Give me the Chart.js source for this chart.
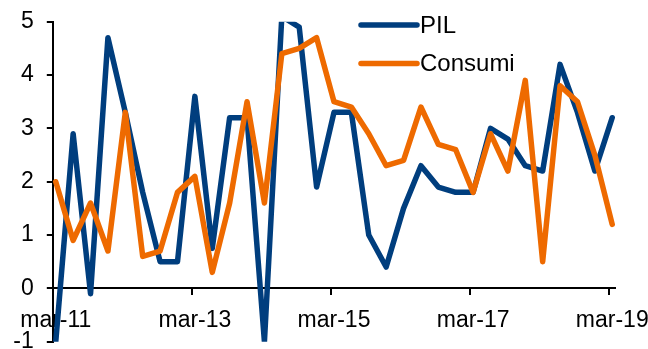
<!DOCTYPE html>
<html>
<head>
<meta charset="utf-8">
<script src="https://cdn.jsdelivr.net/npm/chart.js@4/dist/chart.umd.min.js"></script>
<style>
  html, body { margin: 0; padding: 0; background: #fff; }
  #wrap { width: 648px; height: 349px; position: relative; }
</style>
</head>
<body>
<div id="wrap"><canvas id="c"></canvas></div>
<script>
// Quarterly periods, mar-11 .. mar-19
const quarters = [
  'mar-11','giu-11','set-11','dic-11',
  'mar-12','giu-12','set-12','dic-12',
  'mar-13','giu-13','set-13','dic-13',
  'mar-14','giu-14','set-14','dic-14',
  'mar-15','giu-15','set-15','dic-15',
  'mar-16','giu-16','set-16','dic-16',
  'mar-17','giu-17','set-17','dic-17',
  'mar-18','giu-18','set-18','dic-18',
  'mar-19'
];
// Labelled periods on the time axis
const tickLabels = ['mar-11', 'mar-13', 'mar-15', 'mar-17', 'mar-19'];

// Series values (%)
const pil = [-1.0, 2.9, -0.1, 4.7, 3.3, 1.8, 0.5, 0.5,
             3.6, 0.75, 3.2, 3.2, -1.0, 5.1, 4.9, 1.9,
             3.3, 3.3, 1.0, 0.4, 1.5, 2.3, 1.9, 1.8,
             1.8, 3.0, 2.8, 2.3, 2.2, 4.2, 3.3, 2.2,
             3.2];
const consumi = [2.0, 0.9, 1.6, 0.7, 3.3, 0.6, 0.7, 1.8,
                 2.1, 0.3, 1.6, 3.5, 1.6, 4.4, 4.5, 4.7,
                 3.5, 3.4, 2.9, 2.3, 2.4, 3.4, 2.7, 2.6,
                 1.8, 2.9, 2.2, 3.9, 0.5, 3.8, 3.5, 2.5,
                 1.2];

const seriesNames = ['PIL', 'Consumi'];
const seriesColors = ['#003E7E', '#EE6A00'];

// Observations sit a little after the start of each quarter on the time axis
const OBS_SHIFT = 0.17;
const toPoints = vals => vals.map((v, i) => ({ x: i + OBS_SHIFT, y: v }));

const FONT = "'Liberation Sans', Arial, sans-serif";

// Legend drawn inside the plot, top right
const innerLegend = {
  id: 'innerLegend',
  afterDatasetsDraw(chart) {
    const ctx = chart.ctx;
    const x0 = 361, x1 = 417, rows = [25, 63.5];
    ctx.save();
    seriesNames.forEach((name, k) => {
      const y = rows[k];
      ctx.beginPath();
      ctx.strokeStyle = seriesColors[k];
      ctx.lineWidth = 5.5;
      ctx.lineCap = 'round';
      ctx.moveTo(x0, y);
      ctx.lineTo(x1, y);
      ctx.stroke();
      ctx.fillStyle = '#000';
      ctx.font = '24px ' + FONT;
      ctx.textAlign = 'left';
      ctx.textBaseline = 'middle';
      ctx.fillText(name, x1 + 3, y + 1);
    });
    ctx.restore();
  }
};

new Chart(document.getElementById('c'), {
  type: 'line',
  data: {
    datasets: [
      { label: seriesNames[0], data: toPoints(pil), borderColor: seriesColors[0], order: 1 },
      { label: seriesNames[1], data: toPoints(consumi), borderColor: seriesColors[1], order: 0 }
    ]
  },
  options: {
    responsive: true,
    maintainAspectRatio: false,
    devicePixelRatio: 1,
    animation: false,
    layout: { padding: { top: 21.7, right: 33, bottom: 7.3, left: 0 } },
    elements: {
      line: { borderWidth: 5.5, tension: 0, fill: false, borderJoinStyle: 'round', borderCapStyle: 'round' },
      point: { radius: 0, hoverRadius: 0 }
    },
    plugins: { legend: { display: false }, tooltip: { enabled: false } },
    scales: {
      x: {
        type: 'linear',
        position: { y: 0 },
        min: 0,
        max: 32.33,
        afterBuildTicks: s => {
          s.ticks = tickLabels.map(l => ({ value: quarters.indexOf(l) }));
        },
        afterFit: s => { s.paddingLeft = 0; s.paddingRight = 0; },
        ticks: {
          autoSkip: false,
          maxRotation: 0,
          padding: 12,
          labelOffset: 3,
          color: '#000',
          font: { family: FONT, size: 23 },
          callback: v => quarters[v]
        },
        grid: { drawOnChartArea: false, drawTicks: true, tickLength: 6, color: '#000', lineWidth: 2 },
        border: { display: true, color: '#000', width: 2 }
      },
      y: {
        min: -1,
        max: 5,
        afterFit: s => { s.width = 52.8; s.paddingTop = 0; s.paddingBottom = 0; },
        ticks: {
          stepSize: 1,
          padding: 13,
          color: '#000',
          font: { family: FONT, size: 23 }
        },
        grid: { drawOnChartArea: false, drawTicks: true, tickLength: 6, color: '#000', lineWidth: 2 },
        border: { display: true, color: '#000', width: 2 }
      }
    }
  },
  plugins: [innerLegend]
});
</script>
</body>
</html>
